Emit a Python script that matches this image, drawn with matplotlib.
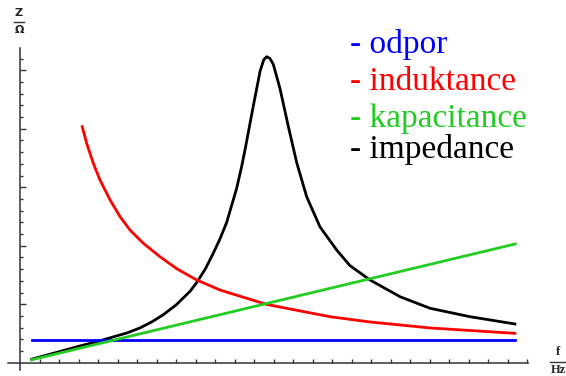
import matplotlib
matplotlib.use("Agg")
import matplotlib.pyplot as plt

# odpor (blue) - constant
r_x = [0.6, 25.4]
r_y = [1.95, 1.95]

# induktance (red)
l_x = [3.19, 3.42, 3.76, 4.10, 4.62, 5.13, 5.64, 6.32, 7.18, 8.04, 9.06, 10.26,
       12.65, 15.90, 17.95, 21.03, 25.38]
l_y = [20.17, 18.75, 17.04, 15.62, 13.91, 12.48, 11.34, 10.21, 9.06, 8.03, 7.07, 6.21,
       4.98, 3.93, 3.48, 2.97, 2.51]

# kapacitance (green)
c_x = [0.6, 25.4]
c_y = [0.25, 10.15]

# impedance (black)
z_x = [0.6, 1.9, 3.0, 3.93, 4.77, 5.5, 6.15, 6.77, 7.33, 8.0, 8.72, 9.06, 9.5, 9.91,
       10.26, 10.6, 11.11, 11.37, 11.54, 11.96, 12.31, 12.5, 12.65, 12.82, 12.99,
       13.33, 13.76, 14.19, 14.7, 15.38, 16.24, 16.92, 17.95, 19.49, 21.03, 23.08, 25.38]
z_y = [0.30, 0.89, 1.40, 1.79, 2.20, 2.55, 2.97, 3.50, 4.08, 4.93, 6.10, 6.85, 8.0, 9.35,
       10.6, 12.0, 14.9, 16.8, 18.2, 21.9, 24.9, 25.9, 26.15, 26.0, 25.5,
       23.45, 20.2, 17.1, 14.19, 11.62, 9.63, 8.3, 7.07, 5.64, 4.65, 3.93, 3.31]

labels = ["- odpor", "- induktance", "- kapacitance", "- impedance"]
colors = ["#0000ff", "#ff0000", "#22cc22", "#000000"]

W, H = 566, 376
fig = plt.figure(figsize=(W / 100, H / 100), dpi=100)
ax = fig.add_axes([0, 0, 1, 1])
ax.set_xlim(-20 / 19.5, (W - 20) / 19.5)
ax.set_ylim((362.7 - H) / 11.7, 362.7 / 11.7)

lw = 2.0
ax.plot(z_x, z_y, color=colors[3], lw=lw, zorder=3)
ax.plot(r_x, r_y, color=colors[0], lw=lw, zorder=4)
ax.plot(l_x, l_y, color=colors[1], lw=lw, zorder=4)
ax.plot(c_x, c_y, color=colors[2], lw=lw, zorder=5)

# Mathematica-style crossing axes
for s in ["top", "right"]:
    ax.spines[s].set_visible(False)
ax.spines["left"].set_position(("data", 0))
ax.spines["bottom"].set_position(("data", 0))
ax.spines["left"].set_bounds(-0.62, 26.9)
ax.spines["bottom"].set_bounds(-0.62, 26.05)
for s in ["left", "bottom"]:
    ax.spines[s].set_color("#333333")
    ax.spines[s].set_linewidth(1.1)

ax.set_xticks(range(1, 27))
ax.set_yticks([5, 10, 15, 20, 25])
ax.set_yticks(range(1, 27), minor=True)
ax.tick_params(axis="x", direction="in", length=3, width=1, color="#333333",
               labelbottom=False)
ax.tick_params(axis="y", which="major", direction="in", length=4.5, width=1,
               color="#333333", labelleft=False)
ax.tick_params(axis="y", which="minor", direction="in", length=2.5, width=1,
               color="#333333")

# axis labels as fractions
def frac(xp, top, bot, ytop, ybar, ybot, half, size, fam):
    fig.text(xp / W, 1 - ytop / H, top, ha="center", va="center",
             fontsize=size, family=fam, color="#222222", weight="bold")
    fig.text(xp / W, 1 - ybot / H, bot, ha="center", va="center",
             fontsize=size, family=fam, color="#222222", weight="bold")
    fig.add_artist(plt.Line2D([(xp - half) / W, (xp + half) / W],
                              [1 - ybar / H, 1 - ybar / H],
                              color="#333333", lw=1.0))

frac(19, "Z", "Ω", 13, 21.5, 30, 5, 8, "DejaVu Sans")
frac(558, "f", "Hz", 352, 361.5, 370, 8, 9, "Liberation Serif")

# legend text
baselines = [53, 90, 126.7, 158]
for lab, col, yb in zip(labels, colors, baselines):
    fig.text(350 / W, 1 - yb / H, lab, color=col, fontsize=24,
             family="Liberation Serif", va="baseline", ha="left")

fig.savefig("out.png", dpi=100)
